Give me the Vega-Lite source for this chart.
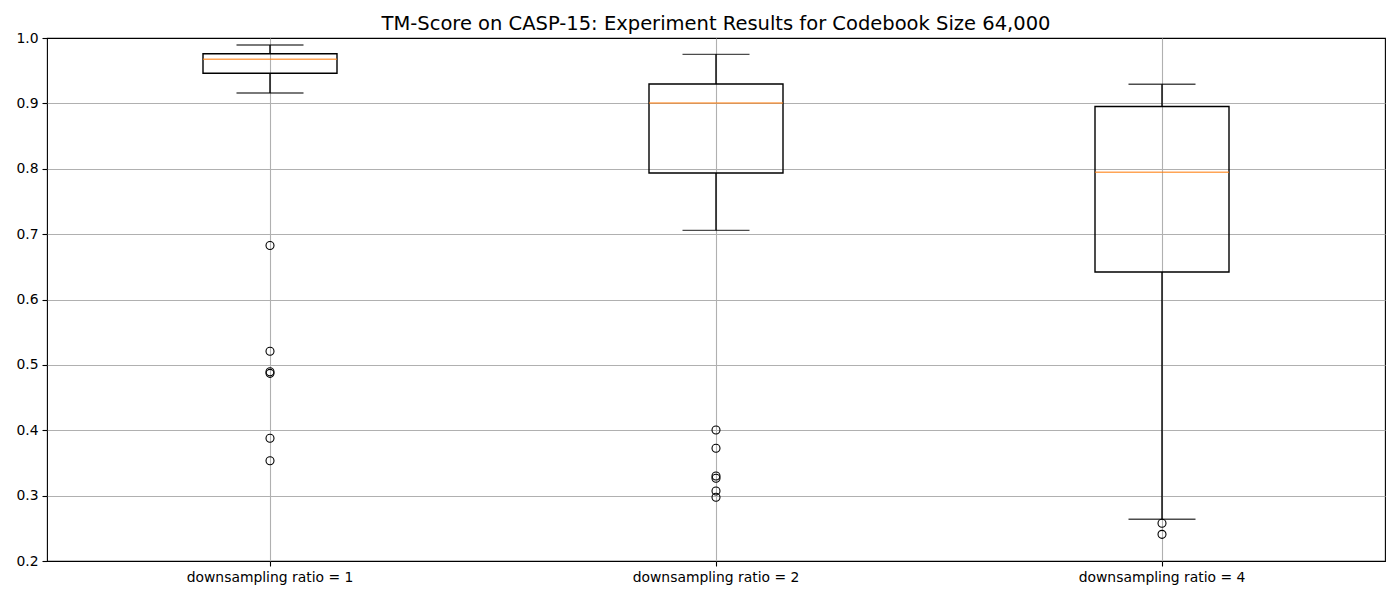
{
  "$schema": "https://vega.github.io/schema/vega-lite/v6.json",
  "autosize": "none",
  "padding": {"left": 47, "top": 38, "right": 15, "bottom": 39},
  "width": 1338,
  "height": 523,
  "background": "white",
  "title": {"text": "TM-Score on CASP-15: Experiment Results for Codebook Size 64,000", "font": "DejaVu Sans", "fontSize": 19.5, "fontWeight": "normal", "color": "black", "offset": -3},
  "config": {
    "view": {"stroke": "black", "strokeWidth": 1.1},
    "axis": {"labelFont": "DejaVu Sans", "labelFontSize": 13.9, "labelColor": "black", "tickColor": "black", "tickSize": 5, "tickWidth": 1.1, "domain": false, "gridColor": "#b0b0b0", "gridWidth": 1.1, "title": null, "labelPadding": 4}
  },
  "datasets": {
    "stats": [
      {"group": "downsampling ratio = 1", "lo": 0.9159, "q1": 0.946, "median": 0.9674, "q3": 0.976, "hi": 0.9893},
      {"group": "downsampling ratio = 2", "lo": 0.7058, "q1": 0.7935, "median": 0.9006, "q3": 0.9297, "hi": 0.975},
      {"group": "downsampling ratio = 4", "lo": 0.2638, "q1": 0.6421, "median": 0.7946, "q3": 0.8953, "hi": 0.9292}
    ],
    "outliers": [
      {"group": "downsampling ratio = 1", "value": 0.6826},
      {"group": "downsampling ratio = 1", "value": 0.5208},
      {"group": "downsampling ratio = 1", "value": 0.4895},
      {"group": "downsampling ratio = 1", "value": 0.487},
      {"group": "downsampling ratio = 1", "value": 0.3877},
      {"group": "downsampling ratio = 1", "value": 0.3533},
      {"group": "downsampling ratio = 2", "value": 0.4004},
      {"group": "downsampling ratio = 2", "value": 0.3724},
      {"group": "downsampling ratio = 2", "value": 0.330},
      {"group": "downsampling ratio = 2", "value": 0.3265},
      {"group": "downsampling ratio = 2", "value": 0.3071},
      {"group": "downsampling ratio = 2", "value": 0.2974},
      {"group": "downsampling ratio = 4", "value": 0.2577},
      {"group": "downsampling ratio = 4", "value": 0.2408}
    ]
  },
  "encoding": {
    "x": {"field": "group", "type": "nominal", "sort": null,
      "scale": {"paddingInner": 0, "paddingOuter": 0},
      "axis": {"labelAngle": 0, "grid": true, "bandPosition": 0.5, "tickBand": "center"}}
  },
  "layer": [
    {
      "data": {"name": "stats"},
      "mark": {"type": "rule", "color": "black", "strokeWidth": 1.4},
      "encoding": {
        "y": {"field": "lo", "type": "quantitative", "scale": {"domain": [0.2, 1.0], "nice": false, "zero": false},
          "axis": {"values": [0.2, 0.3, 0.4, 0.5, 0.6, 0.7, 0.8, 0.9, 1.0], "format": ".1f", "grid": true,
            "gridOpacity": {"condition": {"test": "datum.value <= 0.21 || datum.value >= 0.99", "value": 0}, "value": 1}}},
        "y2": {"field": "q1"}
      }
    },
    {
      "data": {"name": "stats"},
      "mark": {"type": "rule", "color": "black", "strokeWidth": 1.4},
      "encoding": {
        "y": {"field": "q3", "type": "quantitative"},
        "y2": {"field": "hi"}
      }
    },
    {
      "data": {"name": "stats"},
      "mark": {"type": "bar", "size": 134, "fill": "transparent", "stroke": "black", "strokeWidth": 1.4},
      "encoding": {
        "y": {"field": "q1", "type": "quantitative"},
        "y2": {"field": "q3"}
      }
    },
    {
      "data": {"name": "stats"},
      "mark": {"type": "tick", "size": 67, "thickness": 1.4, "color": "black", "orient": "horizontal"},
      "encoding": {"y": {"field": "lo", "type": "quantitative"}}
    },
    {
      "data": {"name": "stats"},
      "mark": {"type": "tick", "size": 67, "thickness": 1.4, "color": "black", "orient": "horizontal"},
      "encoding": {"y": {"field": "hi", "type": "quantitative"}}
    },
    {
      "data": {"name": "stats"},
      "mark": {"type": "tick", "size": 134, "thickness": 1.4, "color": "#ff7f0e", "orient": "horizontal"},
      "encoding": {"y": {"field": "median", "type": "quantitative"}}
    },
    {
      "data": {"name": "outliers"},
      "mark": {"type": "point", "shape": "circle", "filled": false, "stroke": "black", "strokeWidth": 1.1, "size": 64, "opacity": 1},
      "encoding": {"y": {"field": "value", "type": "quantitative"}}
    }
  ]
}
